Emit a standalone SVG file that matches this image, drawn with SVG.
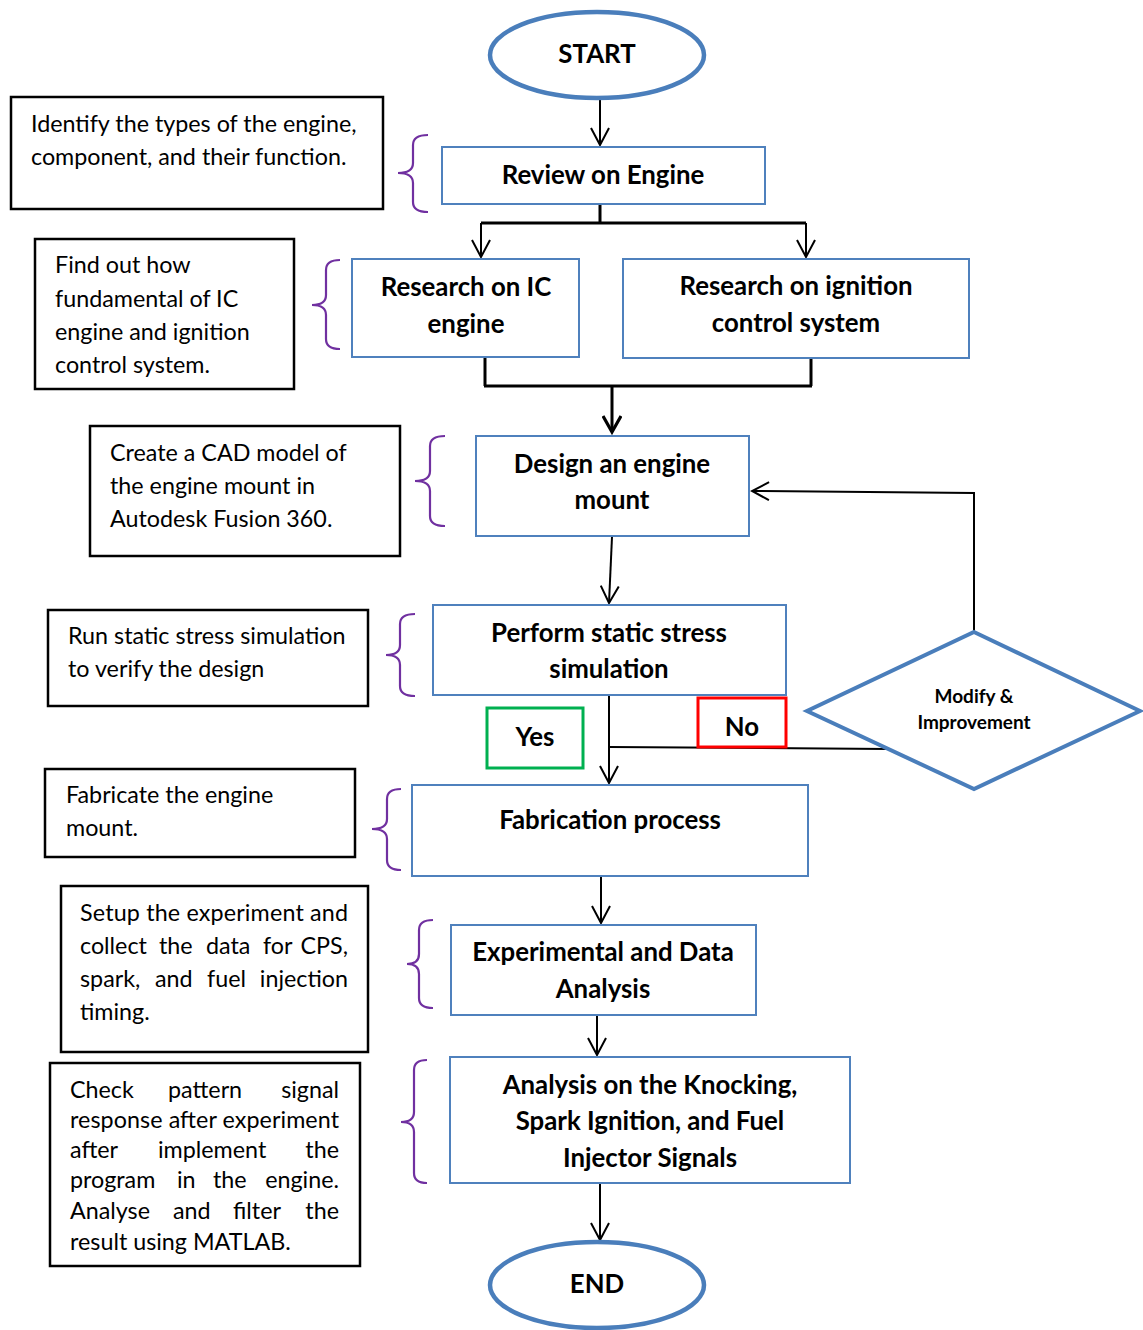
<svg xmlns="http://www.w3.org/2000/svg" width="1143" height="1330" viewBox="0 0 1143 1330">
<defs>
<style>
.flow{fill:#fff;stroke:#4f81bd;stroke-width:2}
.term{fill:#fff;stroke:#4a7ebb;stroke-width:4.5}
.note{fill:#fff;stroke:#000;stroke-width:2.5}
.brace{fill:none;stroke:#7030a0;stroke-width:2.2}
.ft{font-family:Lato,"Open Sans",sans-serif;font-weight:bold;font-size:25.8px;fill:#000;text-anchor:middle}
.nt{font-family:Lato,"Open Sans",sans-serif;font-size:23.3px;fill:#000}
.ln{fill:none;stroke:#000;stroke-width:2}
.lnt{fill:none;stroke:#000;stroke-width:3}
</style>
<marker id="arr" viewBox="0 0 20 20" refX="18" refY="10" markerWidth="20" markerHeight="20" markerUnits="userSpaceOnUse" orient="auto">
<path d="M1,1 L18,10 L1,19" fill="none" stroke="#000" stroke-width="2"/>
</marker>
<marker id="arrT" viewBox="0 0 20 20" refX="17" refY="10" markerWidth="20" markerHeight="20" markerUnits="userSpaceOnUse" orient="auto">
<path d="M1,1 L17,10 L1,19" fill="none" stroke="#000" stroke-width="3.2"/>
</marker>
</defs>
<rect width="1143" height="1330" fill="#fff"/>

<g id="connectors">
<line class="ln" x1="600" y1="100" x2="600" y2="145" marker-end="url(#arr)"/>
<polyline class="lnt" points="600,204 600,223"/>
<polyline class="lnt" points="481,223 806,223"/>
<line class="ln" x1="481" y1="223" x2="481" y2="257" marker-end="url(#arr)"/>
<line class="ln" x1="806" y1="223" x2="806" y2="257" marker-end="url(#arr)"/>
<line class="lnt" x1="485" y1="358" x2="485" y2="386"/>
<line class="lnt" x1="811" y1="359" x2="811" y2="386"/>
<line class="lnt" x1="484" y1="386" x2="812" y2="386"/>
<line class="lnt" x1="612" y1="386" x2="612" y2="432" marker-end="url(#arrT)"/>
<line class="ln" x1="612" y1="537" x2="609" y2="603" marker-end="url(#arr)"/>
<line class="ln" x1="609" y1="696" x2="609" y2="783" marker-end="url(#arr)"/>
<line class="ln" x1="609" y1="747" x2="888" y2="749"/>
<polyline class="ln" points="974,632 974,493 752,491" marker-end="url(#arr)"/>
<line class="ln" x1="601" y1="876" x2="601" y2="923" marker-end="url(#arr)"/>
<line class="ln" x1="597" y1="1016" x2="597" y2="1055" marker-end="url(#arr)"/>
<line class="ln" x1="600" y1="1184" x2="600" y2="1240" marker-end="url(#arr)"/>
</g>

<g id="start"><ellipse class="term" cx="597" cy="55" rx="107" ry="43"/><text class="ft" x="597" y="63">START</text></g>
<g id="review"><rect class="flow" x="442" y="147" width="323" height="57"/><text class="ft" x="603" y="184">Review on Engine</text></g>
<g id="research-ic"><rect class="flow" x="352" y="259" width="227" height="98"/><text class="ft" x="466" y="296">Research on IC</text><text class="ft" x="466" y="333">engine</text></g>
<g id="research-ign"><rect class="flow" x="623" y="259" width="346" height="99"/><text class="ft" x="796" y="295">Research on ignition</text><text class="ft" x="796" y="332">control system</text></g>
<g id="design"><rect class="flow" x="476" y="436" width="273" height="100"/><text class="ft" x="612" y="473">Design an engine</text><text class="ft" x="612" y="509">mount</text></g>
<g id="simulate"><rect class="flow" x="433" y="605" width="353" height="90"/><text class="ft" x="609" y="642">Perform static stress</text><text class="ft" x="609" y="678">simulation</text></g>
<g id="modify"><polygon points="974,632 1140,711 974,789 807,711" fill="#fff" stroke="#4a7ebb" stroke-width="4"/><text class="ft" x="974" y="703" style="font-size:19px">Modify &amp;</text><text class="ft" x="974" y="729" style="font-size:19px">Improvement</text></g>
<g id="yes"><rect x="487" y="708" width="96" height="60" fill="#fff" stroke="#00b050" stroke-width="3"/><text class="ft" x="535" y="746">Yes</text></g>
<g id="no"><rect x="698" y="698" width="88" height="49" fill="#fff" stroke="#ff0000" stroke-width="3"/><text class="ft" x="742" y="736">No</text></g>
<g id="fabrication"><rect class="flow" x="412" y="785" width="396" height="91"/><text class="ft" x="610" y="829">Fabrication process</text></g>
<g id="experimental"><rect class="flow" x="451" y="925" width="305" height="90"/><text class="ft" x="603" y="961">Experimental and Data</text><text class="ft" x="603" y="998">Analysis</text></g>
<g id="analysis"><rect class="flow" x="450" y="1057" width="400" height="126"/><text class="ft" x="650" y="1094">Analysis on the Knocking,</text><text class="ft" x="650" y="1130">Spark Ignition, and Fuel</text><text class="ft" x="650" y="1167">Injector Signals</text></g>
<g id="end"><ellipse class="term" cx="597" cy="1285" rx="107" ry="43"/><text class="ft" x="597" y="1293">END</text></g>

<g id="note1"><rect class="note" x="11" y="97" width="372" height="112"/><text class="nt" x="31" y="132">Identify the types of the engine,</text><text class="nt" x="31" y="165">component, and their function.</text></g>
<g id="note2"><rect class="note" x="35" y="239" width="259" height="150"/><text class="nt" x="55" y="273">Find out how</text><text class="nt" x="55" y="307">fundamental of IC</text><text class="nt" x="55" y="340">engine and ignition</text><text class="nt" x="55" y="373">control system.</text></g>
<g id="note3"><rect class="note" x="90" y="426" width="310" height="130"/><text class="nt" x="110" y="461">Create a CAD model of</text><text class="nt" x="110" y="494">the engine mount in</text><text class="nt" x="110" y="527">Autodesk Fusion 360.</text></g>
<g id="note4"><rect class="note" x="48" y="610" width="320" height="96"/><text class="nt" x="68" y="644">Run static stress simulation</text><text class="nt" x="68" y="677">to verify the design</text></g>
<g id="note5"><rect class="note" x="45" y="769" width="310" height="88"/><text class="nt" x="66" y="803">Fabricate the engine</text><text class="nt" x="66" y="836">mount.</text></g>
<g id="note6"><rect class="note" x="61" y="886" width="307" height="166"/>
<text class="nt" x="80" y="921" textLength="268" lengthAdjust="spacing">Setup the experiment and</text>
<text class="nt" y="954"><tspan x="80">collect</tspan><tspan x="159">the</tspan><tspan x="206">data</tspan><tspan x="263">for</tspan><tspan x="348" text-anchor="end">CPS,</tspan></text>
<text class="nt" y="987"><tspan x="80">spark,</tspan><tspan x="155">and</tspan><tspan x="207">fuel</tspan><tspan x="348" text-anchor="end">injection</tspan></text>
<text class="nt" x="80" y="1020">timing.</text></g>
<g id="note7"><rect class="note" x="50" y="1063" width="310" height="203"/>
<text class="nt" y="1098"><tspan x="70">Check</tspan><tspan x="168">pattern</tspan><tspan x="339" text-anchor="end">signal</tspan></text>
<text class="nt" x="70" y="1128" textLength="269" lengthAdjust="spacing">response after experiment</text>
<text class="nt" y="1158"><tspan x="70">after</tspan><tspan x="158">implement</tspan><tspan x="339" text-anchor="end">the</tspan></text>
<text class="nt" y="1188"><tspan x="70">program</tspan><tspan x="177">in</tspan><tspan x="213">the</tspan><tspan x="339" text-anchor="end">engine.</tspan></text>
<text class="nt" y="1219"><tspan x="70">Analyse</tspan><tspan x="173">and</tspan><tspan x="233">filter</tspan><tspan x="339" text-anchor="end">the</tspan></text>
<text class="nt" x="70" y="1250">result using MATLAB.</text></g>

<g id="braces">
<path class="brace" d="M428,135 Q413,135 413,145 L413,163 Q413,173 398,173 Q413,173 413,183 L413,202 Q413,212 428,212"/>
<path class="brace" d="M340,260 Q326,260 326,270 L326,295 Q326,305 312,305 Q326,305 326,315 L326,339 Q326,349 340,349"/>
<path class="brace" d="M445,436 Q430,436 430,446 L430,471 Q430,481 415,481 Q430,481 430,491 L430,516 Q430,526 445,526"/>
<path class="brace" d="M415,614 Q400,614 400,624 L400,645 Q400,655 386,655 Q400,655 400,665 L400,686 Q400,696 415,696"/>
<path class="brace" d="M401,789 Q387,789 387,799 L387,819 Q387,829 372,829 Q387,829 387,839 L387,860 Q387,870 401,870"/>
<path class="brace" d="M433,920 Q419,920 419,930 L419,954 Q419,964 407,964 Q419,964 419,974 L419,998 Q419,1008 433,1008"/>
<path class="brace" d="M427,1060 Q414,1060 414,1070 L414,1112 Q414,1122 401,1122 Q414,1122 414,1132 L414,1173 Q414,1183 427,1183"/>
</g>
</svg>
